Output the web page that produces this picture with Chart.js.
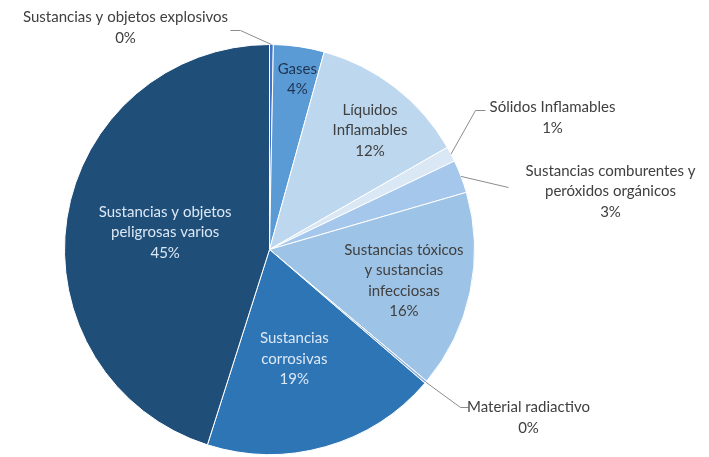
<!DOCTYPE html>
<html>
<head>
<meta charset="utf-8">
<script src="https://cdn.jsdelivr.net/npm/chart.js@4.4.1/dist/chart.umd.min.js"></script>
<style>
  html, body { margin: 0; padding: 0; background: #ffffff; }
  #wrap { width: 709px; height: 457px; position: relative; }
</style>
</head>
<body>
<div id="wrap"><canvas id="pie" width="709" height="457"></canvas></div>
<script>
// categorias y valores (porcentaje)
const categorias = [
  'Sustancias y objetos explosivos',
  'Gases',
  'Líquidos Inflamables',
  'Sólidos Inflamables',
  'Sustancias comburentes y peróxidos orgánicos',
  'Sustancias tóxicos y sustancias infecciosas',
  'Material radiactivo',
  'Sustancias corrosivas',
  'Sustancias y objetos peligrosas varios'
];
const valores = [0.3, 4.0, 12.4, 1.2, 2.6, 15.6, 0.2, 18.6, 45.1];

// como se parte el texto de cada etiqueta
const lineasEtiqueta = [
  ['Sustancias y objetos explosivos'],
  ['Gases'],
  ['Líquidos', 'Inflamables'],
  ['Sólidos Inflamables'],
  ['Sustancias comburentes y', 'peróxidos orgánicos'],
  ['Sustancias tóxicos', 'y sustancias', 'infecciosas'],
  ['Material radiactivo'],
  ['Sustancias', 'corrosivas'],
  ['Sustancias y objetos', 'peligrosas varios']
];

const colores = ['#4472c4', '#5b9bd5', '#bdd7ee', '#dae7f5', '#a6c7ec',
                 '#9dc3e6', '#8fb4de', '#2e75b6', '#1f4e79'];
const colorTexto = ['#404040', '#1f3350', '#404040', '#404040', '#404040',
                    '#404040', '#404040', '#dce8f5', '#dce8f5'];

// etiquetas: 'in' = dentro (factor de radio), 'out' = fuera con linea guia
// x/y relativos al centro del pie; codo = punto intermedio de la linea
const layoutEtiq = [
  { modo: 'out', x: -144, y: -222, codo: [-29, -219], fin: [-39, -219] },
  { modo: 'in', f: 0.84, ajuste: [3, 0] },
  { modo: 'in', f: 0.76, ajuste: [5, 4] },
  { modo: 'out', x: 283, y: -132, codo: [206, -139], fin: [216, -139] },
  { modo: 'out', x: 341, y: -58, codo: [239, -62], fin: [239, -62] },
  { modo: 'in', f: 0.67, ajuste: [0, 3] },
  { modo: 'out', x: 259, y: 168, codo: [191, 158], fin: [199, 158] },
  { modo: 'in', f: 0.55, ajuste: [-6, 1] },
  { modo: 'in', f: 0.515, ajuste: [0, -1] }
];

const FUENTE = '15px Lato, "Open Sans", sans-serif';
const ALTO_LINEA = 20.5;

function pctTexto(v) { return Math.round(v) + '%'; }

const etiquetasPlugin = {
  id: 'etiquetas',
  afterDatasetsDraw(chart) {
    const ctx = chart.ctx;
    const meta = chart.getDatasetMeta(0);
    ctx.save();
    ctx.font = FUENTE;
    ctx.textAlign = 'center';
    ctx.textBaseline = 'middle';
    meta.data.forEach((arc, i) => {
      const p = arc.getProps(['x', 'y', 'startAngle', 'endAngle', 'outerRadius'], true);
      const mid = (p.startAngle + p.endAngle) / 2;
      const L = layoutEtiq[i];
      const lineas = lineasEtiqueta[i].concat([pctTexto(valores[i])]);
      let cx, cy;
      if (L.modo === 'in') {
        const aj = L.ajuste || [0, 0];
        cx = p.x + Math.cos(mid) * p.outerRadius * L.f + aj[0];
        cy = p.y + Math.sin(mid) * p.outerRadius * L.f + aj[1];
        ctx.fillStyle = colorTexto[i];
      } else {
        const ex = p.x + Math.cos(mid) * p.outerRadius;
        const ey = p.y + Math.sin(mid) * p.outerRadius;
        ctx.strokeStyle = '#8c8c8c';
        ctx.lineWidth = 1;
        ctx.beginPath();
        ctx.moveTo(ex, ey);
        ctx.lineTo(p.x + L.codo[0], p.y + L.codo[1]);
        ctx.lineTo(p.x + L.fin[0], p.y + L.fin[1]);
        ctx.stroke();
        cx = p.x + L.x;
        cy = p.y + L.y;
        ctx.fillStyle = '#404040';
      }
      const y0 = cy - (lineas.length - 1) * ALTO_LINEA / 2;
      lineas.forEach((t, k) => ctx.fillText(t, cx, y0 + k * ALTO_LINEA));
    });
    ctx.restore();
  }
};

new Chart(document.getElementById('pie'), {
  type: 'pie',
  data: {
    labels: categorias,
    datasets: [{
      data: valores,
      backgroundColor: colores,
      borderColor: '#ffffff',
      borderWidth: 1
    }]
  },
  options: {
    responsive: false,
    animation: false,
    layout: { padding: { left: 64, right: 234, top: 44, bottom: 2 } },
    plugins: {
      legend: { display: false },
      tooltip: { enabled: false }
    }
  },
  plugins: [etiquetasPlugin]
});
</script>
</body>
</html>
